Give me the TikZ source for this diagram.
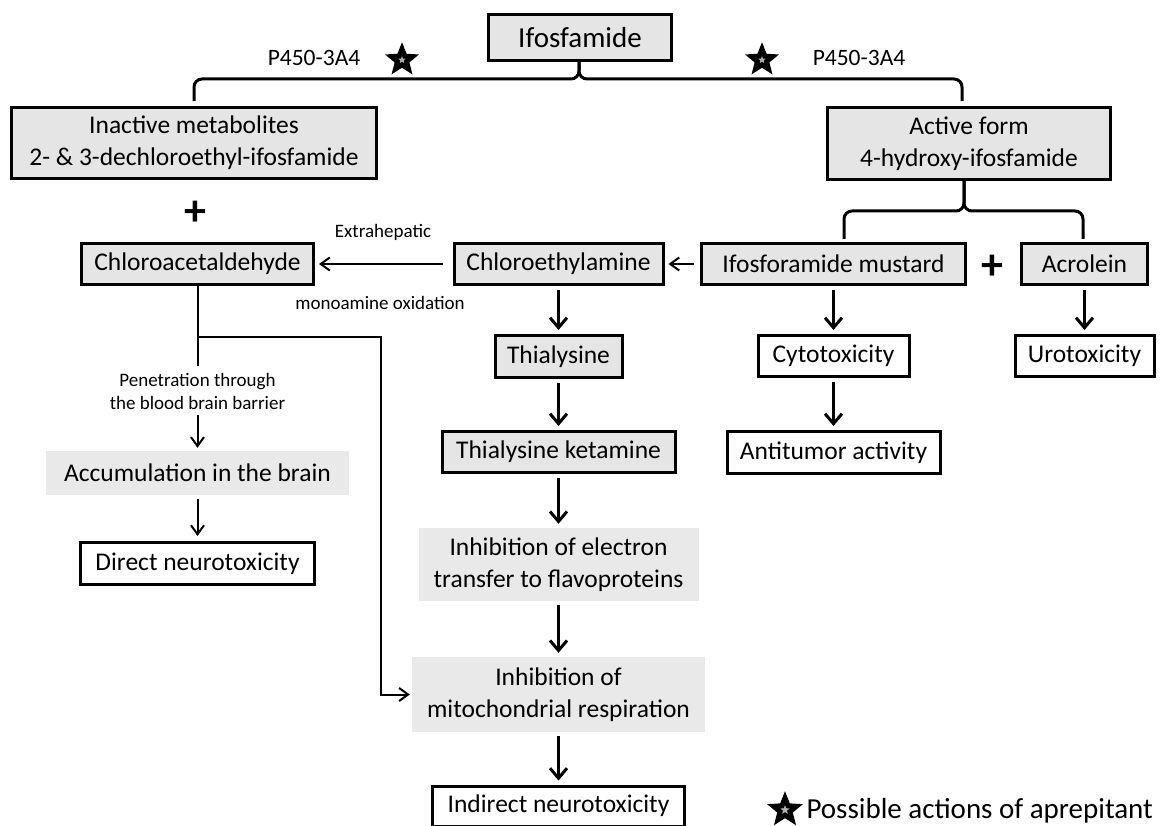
\documentclass[tikz,border=0pt]{standalone}
\usepackage{fontspec}
\setmainfont{Carlito}
\usetikzlibrary{arrows.meta,shapes.geometric}

\begin{document}
\begin{tikzpicture}[x=1pt, y=-1pt]
    % Define styles
    \tikzset{
        compound/.style={
            draw,
            line width=3pt,
            fill=gray!20,
            inner sep=0pt,
            align=center,
            font=\fontsize{25.5}{32}\selectfont
        },
        effect/.style={
            draw,
            line width=3pt,
            fill=white,
            inner sep=0pt,
            align=center,
            font=\fontsize{25.5}{32}\selectfont
        },
        process/.style={
            fill=gray!17,
            inner sep=0pt,
            align=center,
            font=\fontsize{25.5}{32}\selectfont
        },
        note/.style={
            align=center,
            font=\fontsize{19}{23}\selectfont
        },
        enzyme/.style={
            font=\fontsize{23.5}{28}\selectfont
        },
        plussign/.style={
            font=\fontsize{44}{44}\selectfont\bfseries
        },
        aprestar/.style={
            star,
            star points=5,
            star point ratio=2.3,
            draw,
            line width=5pt,
            fill=gray!60,
            minimum size=22pt,
            inner sep=0pt
        },
        arrow/.style={
            -{Straight Barb[length=10pt,width=17pt]},
            line width=3pt,
            shorten <=4pt,
            shorten >=4pt
        },
        thinarrow/.style={
            -{Straight Barb[length=9pt,width=13pt]},
            line width=2pt
        },
        bracket/.style={
            line width=3pt,
            rounded corners=8pt
        }
    }

    \useasboundingbox (0,0) rectangle (1161,826);

    % Parent drug and first split
    \node[compound, font=\fontsize{29}{34}\selectfont, minimum width=183pt, minimum height=46pt] (ifos) at (580,37.5) {Ifosfamide};
    \node[compound, minimum width=365pt, minimum height=71pt] (inact) at (194,143) {Inactive metabolites\\2- \& 3-dechloroethyl-ifosfamide};
    \node[compound, minimum width=283pt, minimum height=72pt] (active) at (969,143.5) {Active form\\4-hydroxy-ifosfamide};

    \node[enzyme] (cyp1) at (314,58) {P450-3A4};
    \node[enzyme] (cyp2) at (859,58) {P450-3A4};
    \node[aprestar] (star1) at (402,60) {};
    \node[aprestar] (star2) at (762,60) {};

    \coordinate (hub1) at (579,79);
    \coordinate (hub2) at (964,211);

    % Metabolites
    \node[plussign] (plus1) at (195,213) {+};
    \node[compound, minimum width=232pt, minimum height=41pt] (chloroacet) at (197.5,264) {Chloroacetaldehyde};
    \node[compound, minimum width=209pt, minimum height=41pt] (chloroeth) at (558.5,264) {Chloroethylamine};
    \node[compound, minimum width=264pt, minimum height=41pt] (mustard) at (833.5,264) {Ifosforamide mustard};
    \node[plussign] (plus2) at (992,267) {+};
    \node[compound, minimum width=126pt, minimum height=41pt] (acrolein) at (1084.5,264) {Acrolein};

    \node[note] (extrahep) at (383,232) {Extrahepatic};
    \node[note] (maoxid) at (380,303) {monoamine oxidation};

    % Left branch
    \node[note] (penet) at (197.5,391.5) {Penetration through\\the blood brain barrier};
    \node[process, minimum width=303pt, minimum height=44pt] (accum) at (197.5,473) {Accumulation in the brain};
    \node[effect, minimum width=234pt, minimum height=42pt] (direct) at (197.5,563.5) {Direct neurotoxicity};

    \coordinate (split) at (197.5,337);
    \coordinate (bypass) at (381,337);

    % Middle branch
    \node[compound, minimum width=127pt, minimum height=42pt] (thialys) at (558.5,356.5) {Thialysine};
    \node[compound, minimum width=233pt, minimum height=41pt] (thialket) at (558.5,452) {Thialysine ketamine};
    \node[process, minimum width=280pt, minimum height=73pt] (electron) at (558.5,564.5) {Inhibition of electron\\transfer to flavoproteins};
    \node[process, minimum width=293pt, minimum height=75pt] (mito) at (558.5,694.5) {Inhibition of\\mitochondrial respiration};
    \node[effect, minimum width=252pt, minimum height=40pt] (indirect) at (558.5,806) {Indirect neurotoxicity};

    % Right branch
    \node[effect, minimum width=151pt, minimum height=41pt] (cyto) at (833.5,356) {Cytotoxicity};
    \node[effect, minimum width=213pt, minimum height=42pt] (antitumor) at (833.5,452.5) {Antitumor activity};
    \node[effect, minimum width=139pt, minimum height=41pt] (uro) at (1084.5,356) {Urotoxicity};

    % Legend
    \node[aprestar, minimum size=24pt] (legstar) at (785,810) {};
    \node[anchor=west, font=\fontsize{29}{34}\selectfont] (legend) at (803,811) {Possible actions of aprepitant};

    % Brackets
    \draw[bracket] ([yshift=5pt]inact.north) |- (hub1) -- (hub1 |- ifos.south);
    \draw[bracket] ([xshift=-7pt,yshift=5pt]active.north) |- (hub1) -- (hub1 |- ifos.south);
    \draw[bracket] ([xshift=10.5pt,yshift=3pt]mustard.north) |- (hub2) -- (hub2 |- active.south);
    \draw[bracket] ([xshift=-1.5pt,yshift=3pt]acrolein.north) |- (hub2) -- (hub2 |- active.south);

    % Horizontal conversions
    \draw[thinarrow, shorten <=10pt, shorten >=4pt] (chloroeth) -- (chloroacet);
    \draw[thinarrow, shorten <=6pt, shorten >=4pt] (mustard) -- (chloroeth);

    % Left branch connectors
    \draw[line width=2pt, shorten >=4pt] (chloroacet) -- (penet);
    \draw[thinarrow, shorten <=2pt, shorten >=3pt] (penet) -- (accum);
    \draw[thinarrow, shorten <=4pt, shorten >=5pt] (accum) -- (direct);
    \draw[thinarrow, shorten >=2pt] (split) -- (bypass) |- (mito.west);

    % Middle branch connectors
    \draw[arrow] (chloroeth) -- (thialys);
    \draw[arrow] (thialys) -- (thialket);
    \draw[arrow] (thialket) -- (electron);
    \draw[arrow] (electron) -- (mito);
    \draw[arrow] (mito) -- (indirect);

    % Right branch connectors
    \draw[arrow] (mustard) -- (cyto);
    \draw[arrow] (cyto) -- (antitumor);
    \draw[arrow] (acrolein) -- (uro);

\end{tikzpicture}
\end{document}
